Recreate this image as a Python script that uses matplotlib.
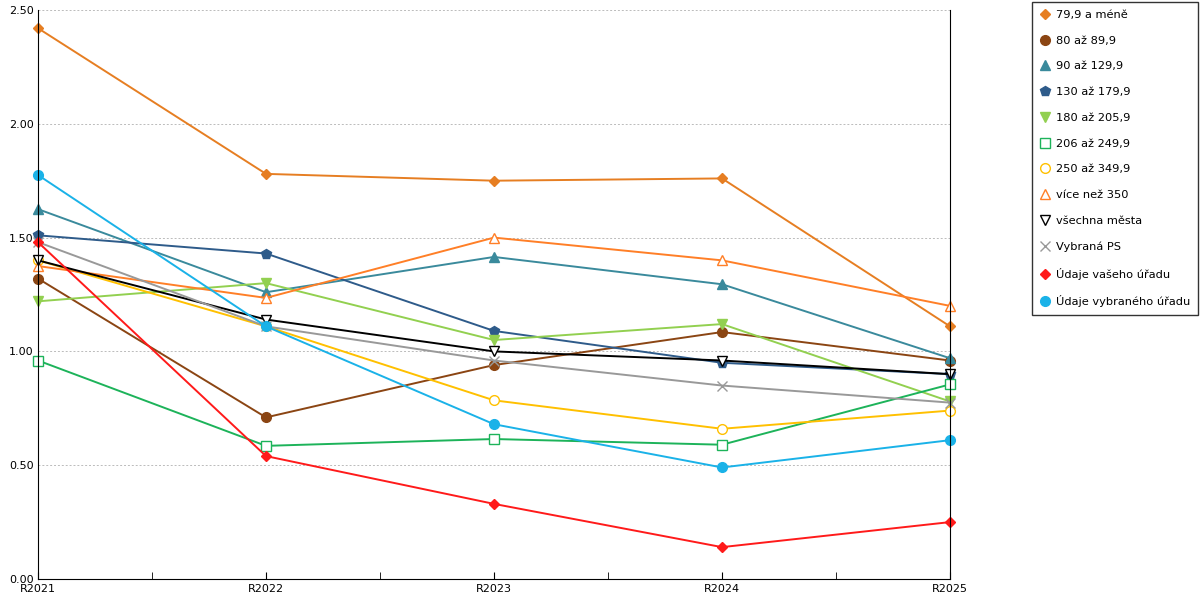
import matplotlib
matplotlib.use("Agg")
import matplotlib.pyplot as plt
from matplotlib.ticker import FixedLocator

years = ["R2021", "R2022", "R2023", "R2024", "R2025"]

s_79 = [2.42, 1.78, 1.75, 1.76, 1.11]
s_80 = [1.32, 0.71, 0.94, 1.085, 0.96]
s_90 = [1.625, 1.26, 1.415, 1.295, 0.97]
s_130 = [1.51, 1.43, 1.09, 0.95, 0.90]
s_180 = [1.22, 1.30, 1.05, 1.12, 0.78]
s_206 = [0.96, 0.585, 0.615, 0.59, 0.855]
s_250 = [1.40, 1.11, 0.785, 0.66, 0.74]
s_350 = [1.375, 1.235, 1.50, 1.40, 1.20]
s_all = [1.40, 1.14, 1.00, 0.96, 0.90]
s_ps = [1.48, 1.11, 0.96, 0.85, 0.775]
s_vas = [1.48, 0.54, 0.33, 0.14, 0.25]
s_vyb = [1.775, 1.11, 0.68, 0.49, 0.61]

labels = ["79,9 a méně", "80 až 89,9", "90 až 129,9", "130 až 179,9", "180 až 205,9",
          "206 až 249,9", "250 až 349,9", "více než 350", "všechna města", "Vybraná PS",
          "Údaje vašeho úřadu", "Údaje vybraného úřadu"]
series = [s_79, s_80, s_90, s_130, s_180, s_206, s_250, s_350, s_all, s_ps, s_vas, s_vyb]
# (barva, marker, vyplněný)
styles = [("#e67e22", "D", True), ("#8b4513", "o", True), ("#3a8a9c", "^", True),
          ("#2e5b8a", "p", True), ("#92d050", "v", True), ("#1db35a", "s", False),
          ("#ffc000", "o", False), ("#ff7f27", "^", False), ("#000000", "v", False),
          ("#999999", "x", True), ("#ff1a1a", "D", True), ("#1ab2e8", "o", True)]

fig = plt.figure(figsize=(12, 6), dpi=100)
ax = fig.add_axes([38/1200, 21/600, 912/1200, 569/600])
x = list(range(len(years)))
for vals, lab, (c, m, filled) in zip(series, labels, styles):
    ms = 7 if m != "D" else 5.5
    ax.plot(x, vals, color=c, lw=1.4, marker=m, markersize=ms, label=lab,
            markerfacecolor=c if filled else "white", markeredgecolor=c, clip_on=False)

ax.set_xlim(0, 4)
ax.set_ylim(0, 2.5)
ax.set_yticks([0, 0.5, 1.0, 1.5, 2.0, 2.5])
ax.set_yticklabels(["0.00", "0.50", "1.00", "1.50", "2.00", "2.50"], fontsize=8)
ax.set_xticks(x)
ax.set_xticklabels(years, fontsize=8)
ax.xaxis.set_minor_locator(FixedLocator([0.5, 1.5, 2.5, 3.5]))
ax.tick_params(axis="x", which="both", length=5, direction="in")
ax.tick_params(axis="y", length=0, pad=3)
ax.grid(axis="y", color="#bbbbbb", linestyle=(0, (2, 2)), lw=0.7)
ax.spines["top"].set_visible(False)
for s in ["left", "bottom", "right"]:
    ax.spines[s].set_color("black")
    ax.spines[s].set_linewidth(0.8)

leg = fig.legend(loc="upper right", bbox_to_anchor=(1198/1200, 1 - 2/600), fontsize=8.2,
                 frameon=True, fancybox=False, edgecolor="black", handlelength=0.9,
                 handletextpad=0.5, labelspacing=1.38, borderpad=0.7, borderaxespad=0)
for h in leg.get_lines():
    h.set_linestyle("none")

fig.savefig("out.png", dpi=100)
